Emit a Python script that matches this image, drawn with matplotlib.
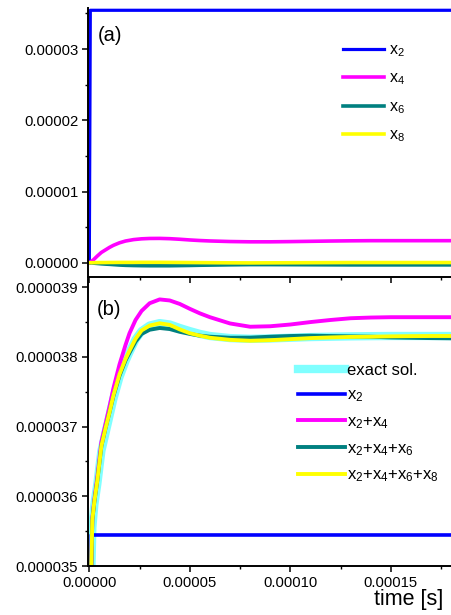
import numpy as np
import matplotlib
matplotlib.use("Agg")
import matplotlib.pyplot as plt
from matplotlib.ticker import MultipleLocator, FormatStrFormatter

plt.rcParams["font.family"] = ["Liberation Sans", "DejaVu Sans"]
plt.rcParams["mathtext.default"] = "regular"

# ---- panel (a): individual terms, time in microseconds, values in 1e-6 ----
t_a_us  = [0, 2, 4, 6, 8, 10, 12, 15, 18, 22, 26, 30, 35, 40, 45, 50, 55, 60,
           70, 80, 90, 100, 110, 120, 130, 140, 150, 160, 170, 180]
x4_a    = [0, 0.40, 0.95, 1.45, 1.80, 2.15, 2.45, 2.80, 3.05, 3.25, 3.36, 3.41,
           3.42, 3.38, 3.30, 3.20, 3.12, 3.06, 2.98, 2.94, 2.94, 2.97, 3.01,
           3.05, 3.08, 3.10, 3.10, 3.10, 3.10, 3.10]
x6_a    = [0, -0.05, -0.10, -0.15, -0.19, -0.22, -0.26, -0.32, -0.36, -0.39,
           -0.41, -0.42, -0.42, -0.42, -0.40, -0.38, -0.35, -0.33, -0.29, -0.26,
           -0.26, -0.27, -0.28, -0.29, -0.30, -0.30, -0.30, -0.30, -0.30, -0.30]
x8_a    = [0, 0.01, 0.02, 0.03, 0.03, 0.04, 0.04, 0.05, 0.05, 0.05, 0.06, 0.06,
           0.06, 0.05, 0.04, 0.03, 0.02, 0.01, -0.01, -0.02, -0.01, 0.0, 0.01,
           0.02, 0.03, 0.03, 0.03, 0.03, 0.03, 0.03]
t_x2_us = [0, 0.5, 180]
x2_a    = [0, 35.45, 35.45]

# ---- panel (b): partial sums, time in microseconds, values in 1e-5 ----
t_b_us  = [0, 1, 1.5, 2.5, 4, 6, 8, 10, 12, 15, 18, 20, 23, 26, 30, 35, 40, 45,
           50, 55, 60, 70, 80, 90, 100, 110, 120, 130, 140, 150, 160, 170, 180]
exact_b = [0, 3.490, 3.555, 3.588, 3.618, 3.665, 3.690, 3.715, 3.740, 3.771,
           3.794, 3.807, 3.825, 3.837, 3.845, 3.8485, 3.8465, 3.8415, 3.837,
           3.833, 3.830, 3.827, 3.826, 3.8265, 3.8275, 3.8285, 3.829, 3.8295,
           3.8298, 3.830, 3.830, 3.830, 3.830]
s24_b   = [0, 3.500, 3.568, 3.595, 3.628, 3.678, 3.703, 3.728, 3.755, 3.789,
           3.817, 3.834, 3.853, 3.866, 3.877, 3.8825, 3.881, 3.876, 3.869,
           3.8625, 3.857, 3.848, 3.8433, 3.844, 3.8465, 3.850, 3.853, 3.8555,
           3.8565, 3.857, 3.857, 3.857, 3.857]
s246_b  = [0, 3.500, 3.566, 3.592, 3.623, 3.672, 3.697, 3.720, 3.744, 3.773,
           3.795, 3.806, 3.822, 3.833, 3.839, 3.8415, 3.840, 3.836, 3.833,
           3.8305, 3.829, 3.8275, 3.8276, 3.829, 3.830, 3.8305, 3.830, 3.8295,
           3.829, 3.828, 3.8275, 3.827, 3.8267]
s2468_b = [0, 3.500, 3.566, 3.592, 3.623, 3.672, 3.697, 3.720, 3.745, 3.775,
           3.797, 3.809, 3.826, 3.838, 3.845, 3.8482, 3.846, 3.8395, 3.834,
           3.8305, 3.8275, 3.8245, 3.8232, 3.824, 3.8255, 3.827, 3.828, 3.8287,
           3.829, 3.8295, 3.8298, 3.830, 3.830]
t_x2b_us = [0, 1, 180]
x2_b    = [0, 3.5445, 3.5445]

BLUE, MAGENTA, TEAL, YELLOW, CYAN = "#0000ff", "#ff00ff", "#008080", "#ffff00", "#80ffff"

us = 1e-6
fig = plt.figure(figsize=(4.52, 6.15), dpi=100)
ax_a = fig.add_axes([88 / 452, 1 - 277 / 615, 364 / 452, 269 / 615])
ax_b = fig.add_axes([88 / 452, 1 - 566 / 615, 364 / 452, 287 / 615])

# panel (a)
ax_a.plot(np.array(t_x2_us) * us, np.array(x2_a) * 1e-6, color=BLUE, lw=2.3, label="$x_2$")
ax_a.plot(np.array(t_a_us) * us, np.array(x4_a) * 1e-6, color=MAGENTA, lw=2.6, label="$x_4$")
ax_a.plot(np.array(t_a_us) * us, np.array(x6_a) * 1e-6, color=TEAL, lw=2.6, label="$x_6$")
ax_a.plot(np.array(t_a_us) * us, np.array(x8_a) * 1e-6, color=YELLOW, lw=2.6, label="$x_8$")
ax_a.set_ylim(-2.0e-6, 3.577e-5)
ax_a.yaxis.set_major_locator(MultipleLocator(1e-5))
ax_a.yaxis.set_minor_locator(MultipleLocator(5e-6))
ax_a.yaxis.set_major_formatter(FormatStrFormatter("%.5f"))
ax_a.tick_params(axis="x", labelbottom=False)
ax_a.text(0.028, 0.897, "(a)", transform=ax_a.transAxes, fontsize=14.5,
          ha="left", va="center")
ax_a.legend(loc="upper left", bbox_to_anchor=(0.70, 0.872), frameon=False,
            fontsize=11.5, handlelength=2.6, handletextpad=0.3,
            labelspacing=0.73, borderpad=0, borderaxespad=0)

# panel (b)
ax_b.plot(np.array(t_b_us) * us, np.array(exact_b) * 1e-5, color=CYAN, lw=6, label="exact sol.")
ax_b.plot(np.array(t_x2b_us) * us, np.array(x2_b) * 1e-5, color=BLUE, lw=2.6, label="$x_2$")
ax_b.plot(np.array(t_b_us) * us, np.array(s24_b) * 1e-5, color=MAGENTA, lw=2.8, label="$x_2$+$x_4$")
ax_b.plot(np.array(t_b_us) * us, np.array(s246_b) * 1e-5, color=TEAL, lw=2.8, label="$x_2$+$x_4$+$x_6$")
ax_b.plot(np.array(t_b_us) * us, np.array(s2468_b) * 1e-5, color=YELLOW, lw=2.8,
          label="$x_2$+$x_4$+$x_6$+$x_8$")
ax_b.set_ylim(3.5e-5, 3.9118e-5)
ax_b.yaxis.set_major_locator(MultipleLocator(1e-6))
ax_b.yaxis.set_minor_locator(MultipleLocator(5e-7))
ax_b.yaxis.set_major_formatter(FormatStrFormatter("%.6f"))
ax_b.xaxis.set_major_formatter(FormatStrFormatter("%.5f"))
ax_b.text(0.025, 0.893, "(b)", transform=ax_b.transAxes, fontsize=14.5,
          ha="left", va="center")
ax_b.legend(loc="upper left", bbox_to_anchor=(0.577, 0.709), frameon=False,
            fontsize=12, handlelength=2.8, handletextpad=0.12,
            labelspacing=0.6, borderpad=0, borderaxespad=0)

for ax in (ax_a, ax_b):
    ax.set_xlim(-6.5e-7, 1.804e-4)
    ax.xaxis.set_major_locator(MultipleLocator(5e-5))
    ax.xaxis.set_minor_locator(MultipleLocator(2.5e-5))
    ax.spines["top"].set_visible(False)
    ax.spines["right"].set_visible(False)
    for s in ("left", "bottom"):
        ax.spines[s].set_linewidth(1.4)
    ax.tick_params(which="major", direction="out", length=4.5, width=1.1,
                   labelsize=10.7, pad=2.5)
    ax.tick_params(which="minor", direction="out", length=2.5, width=1.0)
    ax.patch.set_alpha(0)

fig.text(443 / 452, 1 - 599 / 615, "time [s]", fontsize=15.5, ha="right", va="center")

fig.savefig("out.png", dpi=100)
